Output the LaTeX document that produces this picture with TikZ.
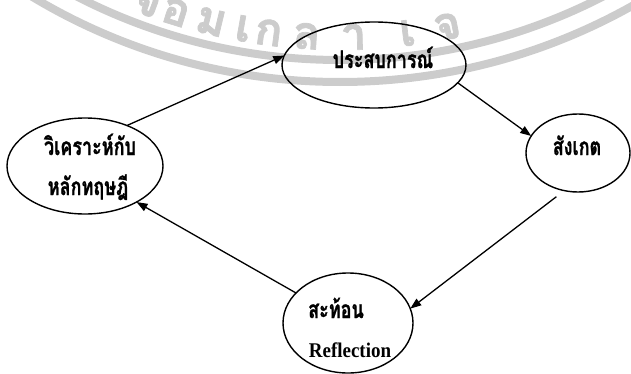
\documentclass[tikz,border=0pt]{standalone}
\usepackage{fontspec}
\usepackage{graphicx}
\newfontfamily\thaifont[Script=Thai, BoldFeatures={FakeBold=1.2}]{Loma}
\newfontfamily\sealfont[Script=Thai, BoldFeatures={FakeBold=1.5}]{Loma}
\newfontfamily\latinserif{Liberation Serif}
\usetikzlibrary{shapes.geometric,arrows.meta}

\definecolor{sealgray}{gray}{0.80}
\newcommand{\tall}[1]{\scalebox{1}[1.35]{#1}}

\tikzset{
  stage/.style={ellipse, draw=black, line width=1.4pt, inner sep=0pt, outer sep=0pt},
  thailabel/.style={font=\thaifont\bfseries\fontsize{18}{18}\selectfont, anchor=base, inner sep=0pt},
  latinlabel/.style={font=\latinserif\bfseries\fontsize{19}{19}\selectfont, anchor=base, inner sep=0pt},
  cycle/.style={line width=1.3pt, -{Triangle[length=11pt,width=8pt]}},
  sealband/.style={draw=sealgray, line width=8pt},
  sealletter/.style={font=\sealfont\bfseries\fontsize{46}{46}\selectfont, text=sealgray, anchor=base, inner sep=0pt}
}

\begin{document}
\begin{tikzpicture}[x=1pt,y=1pt]
  \useasboundingbox (0,0) rectangle (631,373);
  \clip (0,0) rectangle (631,373);

  % faint institutional seal behind the diagram
  \draw[sealband] (340,889) circle[radius=576];
  \draw[sealband] (340,889) circle[radius=598];
  \foreach \ch/\xx [count=\i] in {ะ/106,จ/143,อ/172,ม/208,เ/241,ก/267,ล/306,า/354,เ/409,จ/450} {
    \pgfmathsetmacro\ang{asin((\xx-340)/566)}
    \node[sealletter, rotate=\ang, name=seal\i]
      at ({340+566*sin(\ang)}, {889-566*cos(\ang)}) {\ch};
  }

  % the four stages of the cycle
  \node[stage, minimum width=184pt, minimum height=86pt] (exp) at (374,308) {};
  \node[stage, minimum width=104pt, minimum height=78pt] (obs) at (578,220) {};
  \node[stage, minimum width=130pt, minimum height=100pt] (refl) at (348,50) {};
  \node[stage, minimum width=156pt, minimum height=96pt] (anal) at (85,207) {};

  % stage labels
  \node[thailabel] (expT) at (383,305) {\tall{ประสบการณ์}};
  \node[thailabel] (obsT) at (577,218) {\tall{สังเกต}};
  \node[thailabel] (reflT) at (336,55) {\tall{สะท้อน}};
  \node[latinlabel] (reflE) at (350,16) {\scalebox{1}[1.1]{Reflection}};
  \node[thailabel] (analT1) at (90,218) {\tall{วิเคราะห์กับ}};
  \node[thailabel] (analT2) at (88,178) {\tall{หลักทฤษฎี}};

  % arrows around the cycle
  \draw[cycle] (anal.44) -- (exp.174);
  \draw[cycle] (exp.-12) -- (obs.160);
  \draw[cycle, shorten <=10pt] (obs.-110) -- (refl.13);
  \draw[cycle] (refl.150) -- (anal.-35);
\end{tikzpicture}
\end{document}
